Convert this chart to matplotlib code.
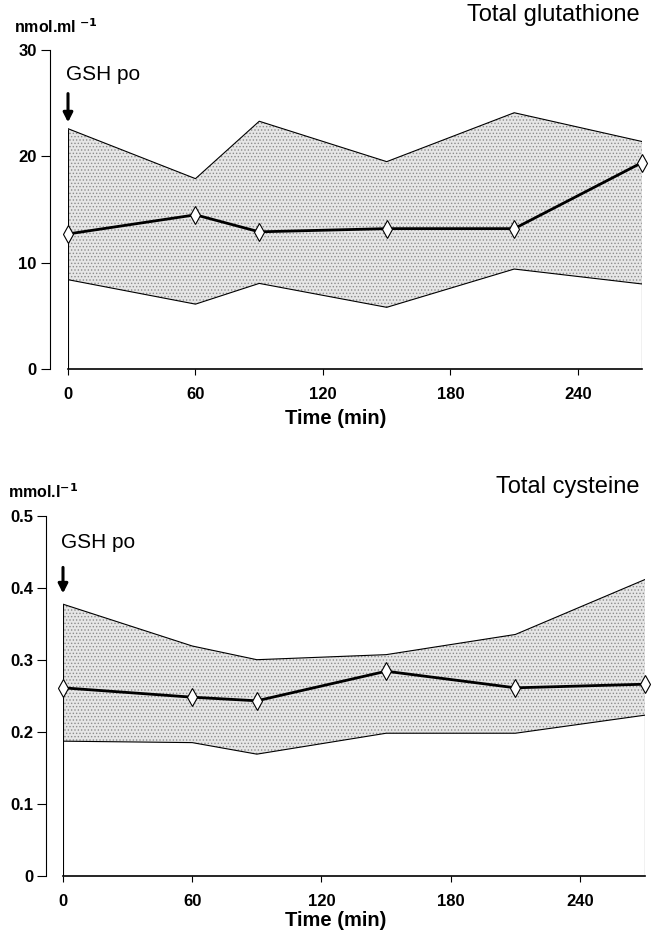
import numpy as np
import matplotlib
matplotlib.use('Agg')
from matplotlib import pyplot as plt

plt.rcParams['font.family'] = ['Liberation Sans', 'DejaVu Sans']
plt.rcParams['hatch.color'] = '#8c8c8c'
plt.rcParams['hatch.linewidth'] = 0.6

# time points (min)
time = [0, 60, 90, 150, 210, 270]

# total glutathione, nmol/ml
gsh_mean = [12.7, 14.5, 12.9, 13.2, 13.2, 19.4]
gsh_upper = [22.6, 17.9, 23.3, 19.5, 24.1, 21.4]
gsh_lower = [8.4, 6.1, 8.05, 5.8, 9.4, 8.0]

# total cysteine, mmol/l
cys_mean = [0.261, 0.248, 0.243, 0.284, 0.261, 0.266]
cys_upper = [0.377, 0.319, 0.300, 0.307, 0.335, 0.411]
cys_lower = [0.187, 0.185, 0.169, 0.198, 0.198, 0.223]

xticks = [0, 60, 120, 180, 240]

W, H = 652, 935
fig = plt.figure(figsize=(W / 100, H / 100), dpi=100)


def px(x, y):
    return x / W, 1 - y / H


def panel(rect, mean, upper, lower, ymax, yticks, yfmt, spine_off, unit, unit_xy,
          title, title_y, gsh_y, arrow, xlab_y):
    ax = fig.add_axes(rect)
    ax.fill_between(time, lower, upper, facecolor='#e6e6e6', edgecolor='none',
                    hatch='.....', lw=0)
    ax.plot(time, upper, color='black', lw=0.8)
    ax.plot(time, lower, color='black', lw=0.8)
    ax.vlines([time[0], time[-1]], 0, [upper[0], upper[-1]], color='black', lw=0.8)
    ax.plot(time, mean, color='black', lw=2.0, marker='d', ms=9, mfc='white',
            mec='black', mew=0.8, clip_on=False, zorder=5)

    ax.set_xlim(0, 270)
    ax.set_ylim(0, ymax)
    ax.set_xticks(xticks)
    ax.set_yticks(yticks)
    ax.set_yticklabels([yfmt(v) for v in yticks])
    for s in ['top', 'right']:
        ax.spines[s].set_visible(False)
    ax.spines['left'].set_position(('outward', spine_off))
    ax.spines['left'].set_linewidth(0.8)
    ax.spines['bottom'].set_linewidth(1.2)
    ax.tick_params(axis='y', direction='out', length=6.5, width=0.8, pad=3,
                   labelsize=12)
    ax.tick_params(axis='x', direction='out', length=4, width=0.8, pad=9,
                   labelsize=12)
    for lab in ax.get_xticklabels() + ax.get_yticklabels():
        lab.set_fontweight('bold')
    ax.patch.set_alpha(0)

    # annotations
    fig.text(*px(*unit_xy), unit, fontsize=11.5, fontweight='bold', ha='left',
             va='baseline')
    fig.text(*px(640, title_y), title, fontsize=17, ha='right', va='center')
    ax.text(-1, gsh_y, 'GSH po', fontsize=15, ha='left', va='center')
    ax.annotate('', xy=(0, arrow[1]), xytext=(0, arrow[0]),
                arrowprops=dict(arrowstyle='-|>,head_width=0.28,head_length=0.55',
                                color='black', lw=2.2, shrinkA=0, shrinkB=0))
    fig.text(*px(336, xlab_y), 'Time (min)', fontsize=14.5, fontweight='bold',
             ha='center', va='center')
    return ax


# top panel: x=0 at px 68, 270 at 641.7, y 0 at 369, 30 at 50
x0, y0 = px(68, 369)
x1, y1 = px(641.7, 50)
panel([x0, y0, x1 - x0, y1 - y0], gsh_mean, gsh_upper, gsh_lower, 30,
      [0, 10, 20, 30], lambda v: '%d' % v, 13, r'nmol.ml$^{\ \mathbf{-1}}$',
      (14, 33), 'Total glutathione', 15, 27.7, (25.9, 23.2), 418)

# bottom panel: x=0 at px 63, 270 at 644.6, y 0 at 876, 0.5 at 515.5
x0, y0 = px(63, 876)
x1, y1 = px(644.6, 515.5)
panel([x0, y0, x1 - x0, y1 - y0], cys_mean, cys_upper, cys_lower, 0.5,
      [0, 0.1, 0.2, 0.3, 0.4, 0.5], lambda v: '0' if v == 0 else '%.1f' % v,
      12, r'mmol.l$^{\mathbf{-1}}$', (8, 498), 'Total cysteine', 487, 0.463,
      (0.428, 0.392), 920)

fig.savefig('out.png', dpi=100)
